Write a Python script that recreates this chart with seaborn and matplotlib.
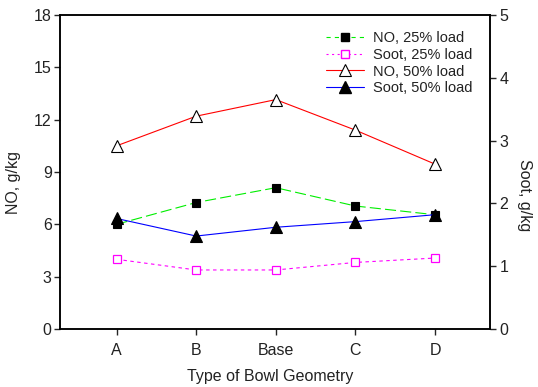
import matplotlib
matplotlib.use("Agg")
import matplotlib.pyplot as plt
from matplotlib.lines import Line2D
import numpy as np
import pandas as pd
import seaborn as sns

categories = ["A", "B", "Base", "C", "D"]
no_25 = [6.0, 7.25, 8.1, 7.05, 6.55]
soot_25 = [1.11, 0.94, 0.94, 1.06, 1.13]
no_50 = [10.5, 12.2, 13.15, 11.4, 9.45]
soot_50 = [1.76, 1.48, 1.62, 1.71, 1.82]

no_ticks = [0, 3, 6, 9, 12, 15, 18]
soot_ticks = [0, 1, 2, 3, 4, 5]

sns.set_style("ticks")
plt.rcParams["font.family"] = ["Liberation Sans", "DejaVu Sans"]
plt.rcParams["lines.scale_dashes"] = False
TXT = "#222222"
FS = 11.5

df = pd.DataFrame({"geom": categories, "pos": np.arange(len(categories)),
                   "no25": no_25, "soot25": soot_25, "no50": no_50, "soot50": soot_50})

fig = plt.figure(figsize=(5.38, 3.87), dpi=100)
ax = fig.add_axes([60/538, 1-329/387, 430/538, 314/387])
ax2 = ax.twinx()

lw = 0.8
sns.lineplot(data=df, x="pos", y="no50", ax=ax, sort=False, color="#ff0000", lw=lw,
             marker="^", ms=8, markerfacecolor="white", markeredgecolor="black",
             markeredgewidth=0.8, zorder=3)
sns.lineplot(data=df, x="pos", y="no25", ax=ax, sort=False, color="#00ee00", lw=lw,
             linestyle=(0, (8, 3)), marker="s", ms=6, markerfacecolor="black",
             markeredgecolor="black", markeredgewidth=0.8, zorder=3)
sns.lineplot(data=df, x="pos", y="soot25", ax=ax2, sort=False, color="#ff00ff", lw=lw,
             linestyle=(0, (2.5, 2.5)), marker="s", ms=6, markerfacecolor="white",
             markeredgecolor="#ff00ff", markeredgewidth=0.9, zorder=3)
sns.lineplot(data=df, x="pos", y="soot50", ax=ax2, sort=False, color="#0000ff", lw=lw,
             marker="^", ms=8, markerfacecolor="black", markeredgecolor="black",
             markeredgewidth=0.8, zorder=4)

ax.set_xlim(-0.71, 4.69)
ax.set_ylim(0, 18)
ax2.set_ylim(0, 5)
ax.set_xticks(df["pos"])
ax.set_xticklabels(categories)
ax.set_yticks(no_ticks)
ax2.set_yticks(soot_ticks)

for a in (ax, ax2):
    for s in a.spines.values():
        s.set_visible(True)
        s.set_linewidth(1.1)
        s.set_color("black")

ax.tick_params(axis="x", direction="out", length=4, width=1, pad=6,
               labelsize=FS, labelcolor=TXT, top=False)
ax.tick_params(axis="y", direction="out", length=4, width=1, pad=2,
               labelsize=FS, labelcolor=TXT, right=False)
ax2.tick_params(axis="y", direction="out", length=4, width=1, pad=3,
                labelsize=FS, labelcolor=TXT, left=False)
ax2.tick_params(axis="x", top=True, bottom=False, labeltop=False, labelbottom=False,
                direction="in", length=5, width=1)
ax2.set_xticks(df["pos"])

ax.set_xlabel("Type of Bowl Geometry", fontsize=FS, color=TXT)
ax.set_ylabel("NO, g/kg", fontsize=FS, color=TXT)
ax2.set_ylabel("Soot, g/kg", fontsize=FS, color=TXT, rotation=270)
ax.xaxis.set_label_coords(0.488, -0.127)
ax.yaxis.set_label_coords(-0.09, 0.465)
ax2.yaxis.set_label_coords(1.098, 0.427)

handles = [
    Line2D([], [], color="#00ee00", lw=lw, linestyle=(0, (3, 3)), marker="s", ms=6,
           markerfacecolor="black", markeredgecolor="black"),
    Line2D([], [], color="#ff00ff", lw=lw, linestyle=(0, (1.5, 2.5)), marker="s", ms=6,
           markerfacecolor="white", markeredgecolor="#ff00ff"),
    Line2D([], [], color="#ff0000", lw=lw, marker="^", ms=8,
           markerfacecolor="white", markeredgecolor="black", markeredgewidth=0.8),
    Line2D([], [], color="#0000ff", lw=lw, marker="^", ms=8,
           markerfacecolor="black", markeredgecolor="black"),
]
labels = ["NO, 25% load", "Soot, 25% load", "NO, 50% load", "Soot, 50% load"]
leg = ax2.legend(handles, labels, loc="upper left", bbox_to_anchor=(0.619, 0.95),
                 frameon=False, fontsize=10.5, borderpad=0, borderaxespad=0,
                 handlelength=2.6, handletextpad=0.6, labelspacing=0.2, numpoints=1)
for t in leg.get_texts():
    t.set_color(TXT)

fig.savefig("out.png", dpi=100)
